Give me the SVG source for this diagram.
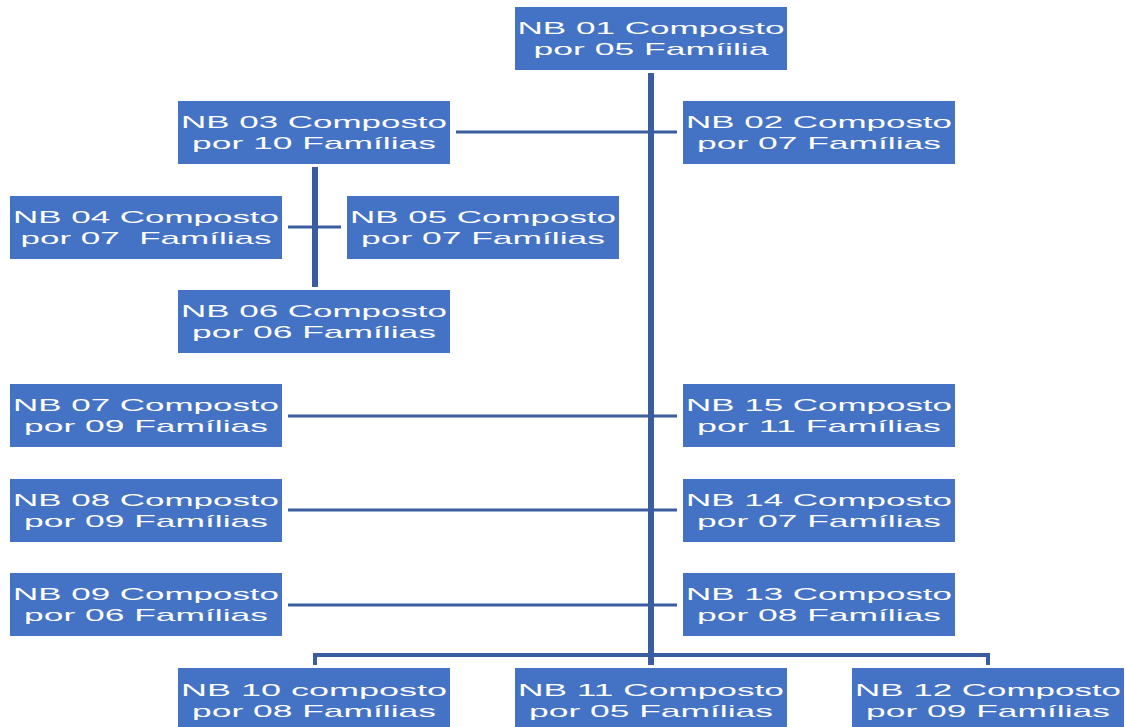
<svg xmlns="http://www.w3.org/2000/svg" width="1125" height="727" viewBox="0 0 1125 727">
<style>
.box{fill:#4472C4}
.t{font-family:"Liberation Sans",Arial,sans-serif;font-size:17px;fill:#FFFFFF;text-anchor:middle;white-space:pre}
.c{stroke:#3A5DA0;fill:none}
</style>
<rect width="1125" height="727" fill="#FFFFFF"/>
<g id="connectors">
<line class="c" x1="651" y1="73" x2="651" y2="665" stroke-width="6"/>
<line class="c" x1="456" y1="132" x2="677" y2="132" stroke-width="3"/>
<line class="c" x1="315" y1="167" x2="315" y2="287" stroke-width="6"/>
<line class="c" x1="288" y1="227" x2="341" y2="227" stroke-width="3"/>
<line class="c" x1="288" y1="416" x2="677" y2="416" stroke-width="3"/>
<line class="c" x1="288" y1="510" x2="677" y2="510" stroke-width="3"/>
<line class="c" x1="288" y1="605" x2="677" y2="605" stroke-width="3"/>
<polyline class="c" points="315,665 315,655 988,655 988,665" stroke-width="4"/>
</g>
<g id="nb01"><rect class="box" x="515" y="7" width="272" height="63"/><text class="t" x="651" y="34" textLength="267" lengthAdjust="spacingAndGlyphs">NB 01 Composto</text><text class="t" x="651" y="54.5" textLength="235" lengthAdjust="spacingAndGlyphs">por 05 Famíilia</text></g>
<g id="nb02"><rect class="box" x="683" y="101" width="272" height="63"/><text class="t" x="819" y="128" textLength="266" lengthAdjust="spacingAndGlyphs">NB 02 Composto</text><text class="t" x="819" y="148.5" textLength="244" lengthAdjust="spacingAndGlyphs">por 07 Famílias</text></g>
<g id="nb03"><rect class="box" x="178" y="101" width="272" height="63"/><text class="t" x="314" y="128" textLength="266" lengthAdjust="spacingAndGlyphs">NB 03 Composto</text><text class="t" x="314" y="148.5" textLength="244" lengthAdjust="spacingAndGlyphs">por 10 Famílias</text></g>
<g id="nb04"><rect class="box" x="10" y="196" width="272" height="63"/><text class="t" x="146" y="223" textLength="266" lengthAdjust="spacingAndGlyphs">NB 04 Composto</text><text class="t" x="146" y="243.5" textLength="251" lengthAdjust="spacingAndGlyphs" xml:space="preserve">por 07  Famílias</text></g>
<g id="nb05"><rect class="box" x="347" y="196" width="272" height="63"/><text class="t" x="483" y="223" textLength="266" lengthAdjust="spacingAndGlyphs">NB 05 Composto</text><text class="t" x="483" y="243.5" textLength="244" lengthAdjust="spacingAndGlyphs">por 07 Famílias</text></g>
<g id="nb06"><rect class="box" x="178" y="290" width="272" height="63"/><text class="t" x="314" y="317" textLength="266" lengthAdjust="spacingAndGlyphs">NB 06 Composto</text><text class="t" x="314" y="337.5" textLength="244" lengthAdjust="spacingAndGlyphs">por 06 Famílias</text></g>
<g id="nb07"><rect class="box" x="10" y="384" width="272" height="63"/><text class="t" x="146" y="411" textLength="266" lengthAdjust="spacingAndGlyphs">NB 07 Composto</text><text class="t" x="146" y="431.5" textLength="244" lengthAdjust="spacingAndGlyphs">por 09 Famílias</text></g>
<g id="nb15"><rect class="box" x="683" y="384" width="272" height="63"/><text class="t" x="819" y="411" textLength="266" lengthAdjust="spacingAndGlyphs">NB 15 Composto</text><text class="t" x="819" y="431.5" textLength="244" lengthAdjust="spacingAndGlyphs">por 11 Famílias</text></g>
<g id="nb08"><rect class="box" x="10" y="479" width="272" height="63"/><text class="t" x="146" y="506" textLength="266" lengthAdjust="spacingAndGlyphs">NB 08 Composto</text><text class="t" x="146" y="526.5" textLength="244" lengthAdjust="spacingAndGlyphs">por 09 Famílias</text></g>
<g id="nb14"><rect class="box" x="683" y="479" width="272" height="63"/><text class="t" x="819" y="506" textLength="266" lengthAdjust="spacingAndGlyphs">NB 14 Composto</text><text class="t" x="819" y="526.5" textLength="244" lengthAdjust="spacingAndGlyphs">por 07 Famílias</text></g>
<g id="nb09"><rect class="box" x="10" y="573" width="272" height="63"/><text class="t" x="146" y="600" textLength="266" lengthAdjust="spacingAndGlyphs">NB 09 Composto</text><text class="t" x="146" y="620.5" textLength="244" lengthAdjust="spacingAndGlyphs">por 06 Famílias</text></g>
<g id="nb13"><rect class="box" x="683" y="573" width="272" height="63"/><text class="t" x="819" y="600" textLength="266" lengthAdjust="spacingAndGlyphs">NB 13 Composto</text><text class="t" x="819" y="620.5" textLength="244" lengthAdjust="spacingAndGlyphs">por 08 Famílias</text></g>
<g id="nb10"><rect class="box" x="178" y="668" width="272" height="63"/><text class="t" x="314" y="696" textLength="266" lengthAdjust="spacingAndGlyphs">NB 10 composto</text><text class="t" x="314" y="716.5" textLength="244" lengthAdjust="spacingAndGlyphs">por 08 Famílias</text></g>
<g id="nb11"><rect class="box" x="515" y="668" width="272" height="63"/><text class="t" x="651" y="696" textLength="266" lengthAdjust="spacingAndGlyphs">NB 11 Composto</text><text class="t" x="651" y="716.5" textLength="244" lengthAdjust="spacingAndGlyphs">por 05 Famílias</text></g>
<g id="nb12"><rect class="box" x="852" y="668" width="272" height="63"/><text class="t" x="988" y="696" textLength="266" lengthAdjust="spacingAndGlyphs">NB 12 Composto</text><text class="t" x="988" y="716.5" textLength="244" lengthAdjust="spacingAndGlyphs">por 09 Famílias</text></g>
</svg>
